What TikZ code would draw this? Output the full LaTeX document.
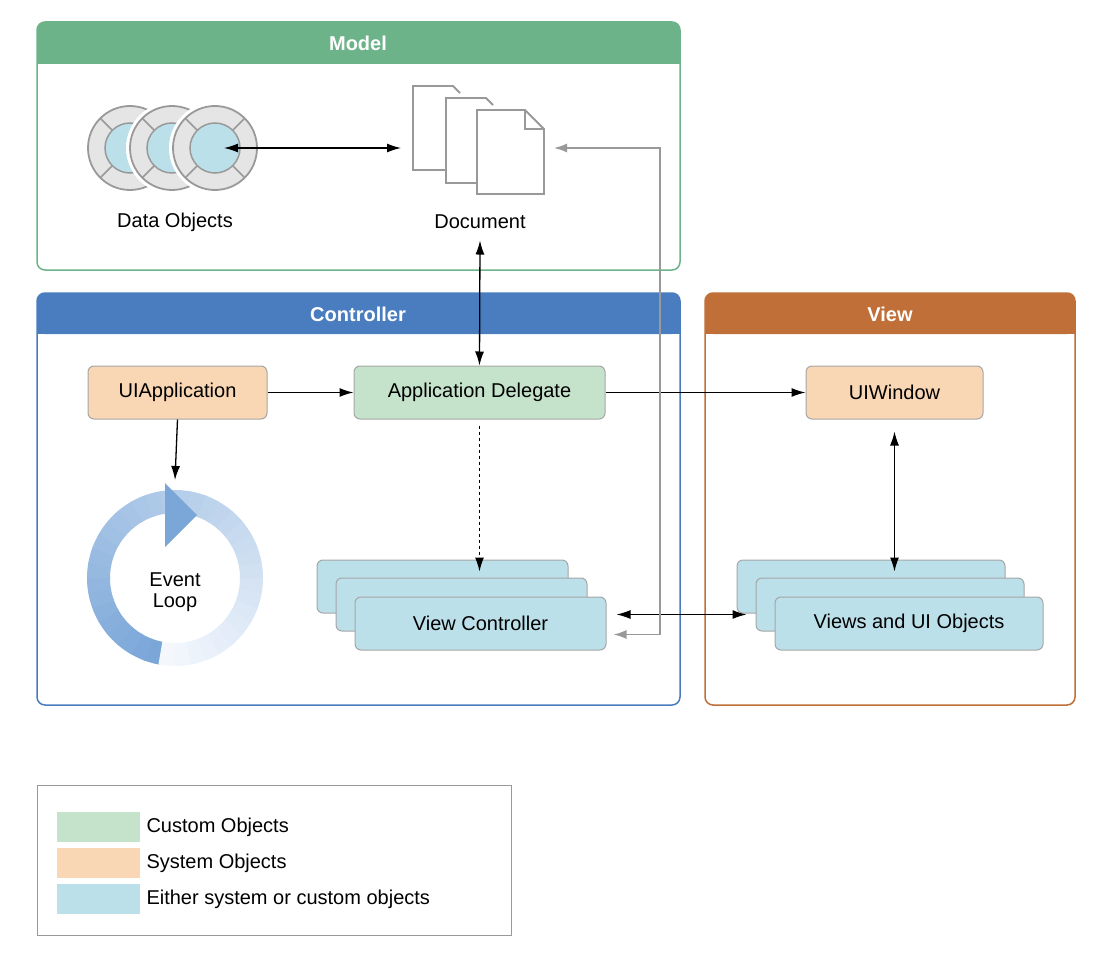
\documentclass[tikz,border=0pt]{standalone}
\usepackage{fontspec}
\setmainfont{Liberation Sans}
\usetikzlibrary{arrows.meta,calc}
\definecolor{modelc}{HTML}{6DB38A}
\definecolor{ctrlc}{HTML}{4A7DBF}
\definecolor{viewc}{HTML}{BF6F37}
\definecolor{custc}{HTML}{C5E3CB}
\definecolor{sysc}{HTML}{F9D6B4}
\definecolor{eitc}{HTML}{BCE0EA}
\definecolor{loopd}{HTML}{7AA6D8}
\definecolor{loopl}{HTML}{F4F8FD}
\begin{document}
\begin{tikzpicture}[x=1pt,y=-1pt, font=\fontsize{20}{23}\selectfont]
        \tikzset{panel/.style = {draw=#1, line width=1.5pt, rounded corners=8pt}}
        \tikzset{head/.style = {fill=#1, rounded corners=8pt}}
        \tikzset{obj/.style = {draw=gray!70, line width=1pt, rounded corners=6pt, fill=#1, minimum height=53pt, inner sep=0pt}}
        \tikzset{arr/.style = {line width=1.3pt, -{Latex[length=14pt,width=9pt]}}}
        \tikzset{darr/.style = {arr, {Latex[length=14pt,width=9pt]}-{Latex[length=14pt,width=9pt]}}}
        \tikzset{page/.style = {draw=gray!80, line width=1.8pt, fill=white}}
        \useasboundingbox (0,0) rectangle (1108,960);

        % panels
        \draw[panel=modelc] (37,22) rectangle (680,270);
        \fill[head=modelc] (37,22) rectangle (680,64);
        \fill[modelc] (37,50) rectangle (680,64);
        \node[text=white, font=\fontsize{20}{23}\selectfont\bfseries] (model) at (358,43) {Model};

        \draw[panel=ctrlc] (37,293) rectangle (680,705);
        \fill[head=ctrlc] (37,293) rectangle (680,334);
        \fill[ctrlc] (37,320) rectangle (680,334);
        \node[text=white, font=\fontsize{20}{23}\selectfont\bfseries] (controller) at (358,314) {Controller};

        \draw[panel=viewc] (705,293) rectangle (1075,705);
        \fill[head=viewc] (705,293) rectangle (1075,334);
        \fill[viewc] (705,320) rectangle (1075,334);
        \node[text=white, font=\fontsize{20}{23}\selectfont\bfseries] (view) at (890,314) {View};

        % data objects
        \foreach \cx in {130,172,215} {
            \fill[white] (\cx,148) circle (46);
            \draw[gray!80, line width=1.8pt, fill=gray!20] (\cx,148) circle (42);
            \foreach \a in {45,135,225,315}
                \draw[gray!80, line width=1.5pt] ($(\cx,148)+(\a:25)$) -- ($(\cx,148)+(\a:42)$);
            \draw[gray!80, line width=1.5pt, fill=eitc] (\cx,148) circle (25);
        }
        \coordinate (data) at (172,148);
        \node (datalbl) at (175,222) {Data Objects};

        % document
        \draw[page] (460,170) -- (413,170) -- (413,86) -- (453,86) -- (460,93);
        \draw[page] (493,183) -- (446,183) -- (446,98) -- (486,98) -- (493,105);
        \draw[page] (477,110) -- (525,110) -- (544,129) -- (544,194) -- (477,194) -- cycle;
        \draw[gray!80, line width=1.5pt] (525,110) -- (525,129) -- (544,129);
        \coordinate (doc) at (478,148);
        \node (doclbl) at (480,222) {Document};

        % objects
        \node[obj=sysc, minimum width=179pt] (uiapp) at (177.5,392.5) {UIApplication};
        \node[obj=custc, minimum width=251pt] (appdel) at (479.5,392.5) {Application Delegate};
        \node[obj=sysc, minimum width=177pt] (uiwin) at (894.5,392.5) {UIWindow};

        \node[obj=eitc, minimum width=251pt] (vc2) at (442.5,586.5) {};
        \node[obj=eitc, minimum width=251pt] (vc1) at (461.5,604.5) {};
        \node[obj=eitc, minimum width=251pt] (vc) at (480.5,623.5) {View Controller};

        \node[obj=eitc, minimum width=268pt] (views2) at (871,586.5) {};
        \node[obj=eitc, minimum width=268pt] (views1) at (890,604.5) {};
        \node[obj=eitc, minimum width=268pt] (views) at (909,623.5) {Views and UI Objects};

        % event loop
        \foreach \i in {0,...,35} {
            \pgfmathsetmacro{\c}{100-\i*100/35}
            \draw[color=loopd!\c!loopl, line width=23pt] (175,578) ++(100+10*\i:76.5) arc[start angle=100+10*\i, end angle=111+10*\i, radius=76.5];
        }
        \fill[loopd] (165,483) -- (197,515) -- (165,547) -- cycle;
        \node[align=center, font=\fontsize{20}{21}\selectfont] (loop) at (175,592) {Event\\Loop};

        % connectors
        \draw[darr] ([xshift=52pt]data) -- ([xshift=-77pt]doc);
        \draw[darr] (doclbl.south) ++(0,8) -- (appdel.north);
        \draw[arr] (uiapp) -- (appdel);
        \draw[arr] (appdel) -- (uiwin);
        \draw[arr] (uiapp.south) -- (loop.north |- 0,480);
        \draw[arr, dashed] ([yshift=-6pt]appdel.south) -- ([yshift=-12pt]vc2.north -| appdel.south);
        \draw[darr] ([yshift=-12pt]uiwin.south) -- ([yshift=-12pt]views2.north -| uiwin.south);
        \draw[darr] ([shift={(10pt,9pt)}]vc.east) -- ([shift={(-28pt,9pt)}]views.west);
        \draw[gray!80, line width=1.5pt, {Latex[length=13pt,width=9pt]}-{Latex[length=13pt,width=9pt]}]
            ([xshift=7pt,yshift=-11pt]vc.east) -| (660,148) -- ([xshift=76pt]doc);

        % legend
        \draw[gray!80, line width=1pt] (37,785) rectangle (511,935);
        \node[fill=custc, minimum width=83pt, minimum height=30pt] (k1) at (98.5,827) {};
        \node[fill=sysc, minimum width=83pt, minimum height=30pt] (k2) at (98.5,863) {};
        \node[fill=eitc, minimum width=83pt, minimum height=30pt] (k3) at (98.5,899) {};
        \node[anchor=west] (t1) at (143,827) {Custom Objects};
        \node[anchor=west] (t2) at (143,863) {System Objects};
        \node[anchor=west] (t3) at (143,899) {Either system or custom objects};
\end{tikzpicture}
\end{document}
